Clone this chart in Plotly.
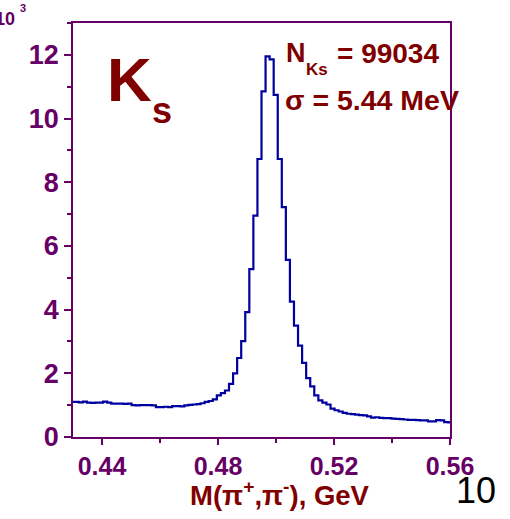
import plotly.graph_objects as go

# ---- data (counts in units of 10^3 per bin) ----
bin_start = 0.4292      # GeV, first bin edge
bin_width = 0.0014      # GeV
counts = [1.10, 1.10, 1.09, 1.11, 1.08, 1.07, 1.08, 1.08, 1.11, 1.08,
          1.05, 1.05, 1.05, 1.04, 1.05, 1.00, 0.99, 1.00, 1.00, 1.00,
          0.99, 0.94, 0.94, 0.95, 0.94, 0.97, 0.97, 0.96, 0.99, 1.01,
          1.02, 1.03, 1.06, 1.10, 1.13, 1.18, 1.31, 1.38, 1.46, 1.67,
          2.00, 2.48, 3.01, 3.92, 5.27, 6.95, 8.73, 10.85, 11.95, 11.86,
          10.74, 8.73, 7.22, 5.56, 4.25, 3.50, 2.87, 2.33, 1.85, 1.59,
          1.31, 1.15, 1.08, 1.02, 0.89, 0.84, 0.80, 0.76, 0.73, 0.72,
          0.70, 0.69, 0.68, 0.65, 0.61, 0.62, 0.60, 0.59, 0.59, 0.58,
          0.57, 0.56, 0.55, 0.54, 0.54, 0.53, 0.52, 0.52, 0.49, 0.49,
          0.53, 0.52, 0.47, 0.46]
x_ticks = [0.44, 0.48, 0.52, 0.56]
x_tick_labels = ["0.44", "0.48", "0.52", "0.56"]
y_ticks = [0, 2, 4, 6, 8, 10, 12]
y_tick_labels = ["0", "2", "4", "6", "8", "10", "12"]
n_events = "99034"
sigma_text = "5.44 MeV"

edges = [bin_start + bin_width * i for i in range(len(counts) + 1)]
xs = edges
ys = counts + [counts[-1]]

W, H = 510, 519
ML, MR, MT, MB = 73, 60, 23, 82
PW, PH = W - ML - MR, H - MT - MB

def px(p):
    return (p - ML) / PW

def py(p):
    return (H - MB - p) / PH

PURPLE = "#660066"
DRED = "#800000"
FONT = "Liberation Sans, Arial, sans-serif"

fig = go.Figure()
fig.add_trace(go.Scatter(x=xs, y=ys, mode="lines", line_shape="hv",
                         line=dict(color="#0000A0", width=2.2),
                         hoverinfo="skip", showlegend=False))

axis_common = dict(showline=True, linecolor=PURPLE, linewidth=1.5, mirror=True,
                   ticks="outside", tickcolor=PURPLE, tickwidth=1.5,
                   showgrid=False, zeroline=False)

fig.update_xaxes(range=[0.43, 0.56], tickmode="array", tickvals=x_ticks,
                 ticktext=x_tick_labels, ticklen=6,
                 minor=dict(ticks="outside", dtick=0.02, tick0=0.44, ticklen=4,
                            tickcolor=PURPLE, tickwidth=1.5),
                 tickfont=dict(family=FONT, size=25, color=PURPLE, weight="bold"),
                 **axis_common)
fig.update_yaxes(range=[0, 13], tickmode="array", tickvals=y_ticks,
                 ticktext=y_tick_labels, ticklen=7,
                 minor=dict(ticks="outside", dtick=1, tick0=0, ticklen=4,
                            tickcolor=PURPLE, tickwidth=1.5),
                 tickfont=dict(family=FONT, size=27, color=PURPLE, weight="bold"),
                 **axis_common)

def ann(text, x, y, size, color, xanchor="left", yanchor="middle", bold=True):
    fig.add_annotation(text=text, x=px(x), y=py(y), xref="paper", yref="paper",
                       xanchor=xanchor, yanchor=yanchor, showarrow=False,
                       font=dict(family=FONT, size=size, color=color,
                                 weight="bold" if bold else "normal"))

# exponent label (leading "1" partly cut at the page edge, as in the original)
ann("10", 17, 19, 18, PURPLE, xanchor="right")
ann("3", 17.5, 8, 11, PURPLE)
# K_s
ann("K", 105, 79, 62, DRED)
ann("s", 150, 111, 36, DRED)
# N_Ks
ann("N", 284, 53, 27, DRED)
ann("Ks", 304, 69, 17, DRED)
ann("= " + n_events, 335, 53, 28, DRED)
# sigma
ann("\u03c3 = " + sigma_text, 283, 100, 28.5, DRED)
# x title
ann("M(\u03c0<sup>+</sup>,\u03c0<sup>-</sup>), GeV", 188, 493, 27.5, DRED)
# page number
ann("10", 454, 491, 36, "black", bold=False)

fig.update_layout(width=W, height=H, margin=dict(l=ML, r=MR, t=MT, b=MB),
                  paper_bgcolor="white", plot_bgcolor="white",
                  showlegend=False)

fig.write_html("out.html")
